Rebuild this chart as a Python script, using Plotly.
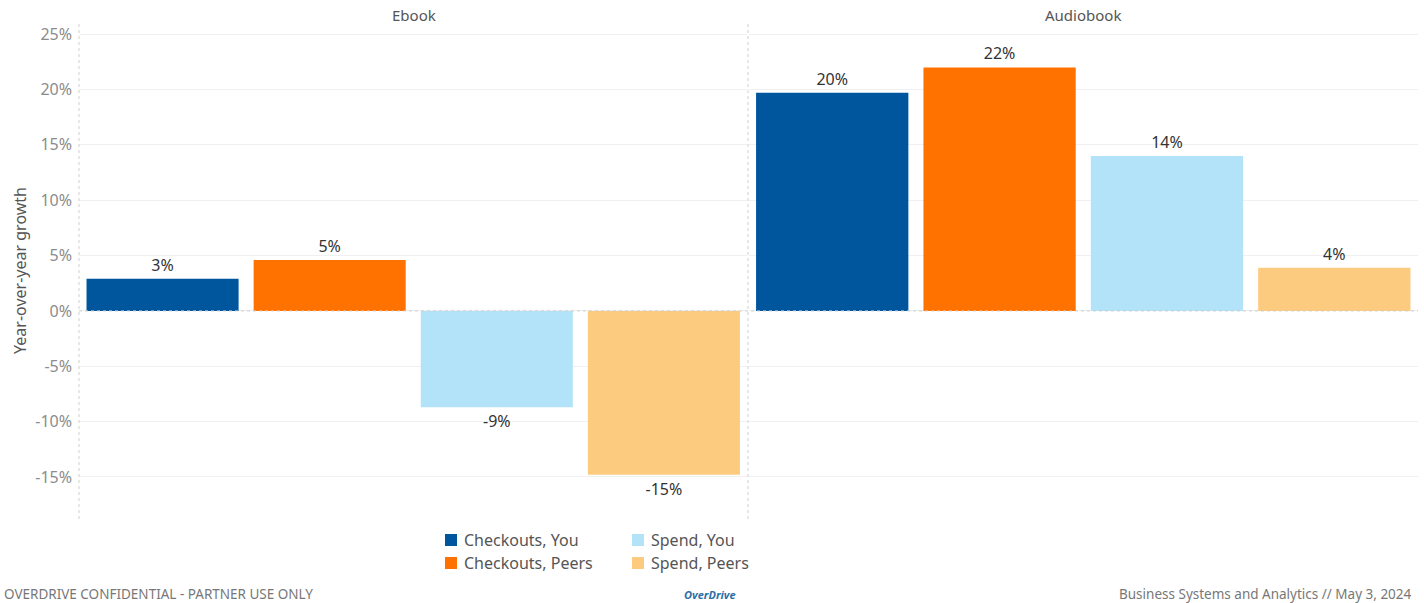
import plotly.graph_objects as go

# Year-over-year growth by format and measure
measures = ["Checkouts, You", "Checkouts, Peers", "Spend, You", "Spend, Peers"]
colors = ["#00569d", "#ff7200", "#b3e3f9", "#fdcb80"]
ebook_growth = [0.029, 0.046, -0.087, -0.148]
audiobook_growth = [0.197, 0.220, 0.140, 0.039]
panels = ["Ebook", "Audiobook"]
y_ticks = [-0.15, -0.10, -0.05, 0.0, 0.05, 0.10, 0.15, 0.20, 0.25]
y_tick_labels = ["-15%", "-10%", "-5%", "0%", "5%", "10%", "15%", "20%", "25%"]

FONT = "Noto Sans"
W, H = 1424, 603
L, R, T, B = 79, 6, 22, 84
pw = W - L - R
split = (748 - L) / pw

fig = go.Figure()
for vals, xa in [(ebook_growth, "x"), (audiobook_growth, "x2")]:
    fig.add_trace(go.Bar(
        x=measures, y=vals, xaxis=xa, yaxis="y",
        marker=dict(color=colors, line=dict(width=0)),
        text=[f"{v * 100:.0f}%" for v in vals], textposition="outside",
        textfont=dict(family=FONT, size=16, color="#333333"),
        cliponaxis=False, showlegend=False, hoverinfo="skip",
    ))

fig.update_layout(
    width=W, height=H,
    margin=dict(l=L, r=R, t=T, b=B),
    paper_bgcolor="white", plot_bgcolor="white",
    bargap=0.09,
    font=dict(family=FONT, color="#555555"),
    xaxis=dict(domain=[0, split - 0.0004], showticklabels=False, showgrid=False,
               zeroline=False, showline=False, ticks=""),
    xaxis2=dict(domain=[split + 0.0004, 1], showticklabels=False, showgrid=False,
                zeroline=False, showline=False, ticks="", anchor="y"),
    yaxis=dict(range=[-0.188, 0.261], tickvals=y_ticks, ticktext=y_tick_labels,
               tickfont=dict(family=FONT, size=16, color="#8c8c8c"),
               showgrid=True, gridcolor="#f0f0f0", gridwidth=1,
               zeroline=False, showline=False, ticks="", ticklabelstandoff=6,
               title=dict(text="Year-over-year growth", standoff=4,
                          font=dict(family=FONT, size=16, color="#555555"))),
)

# zero line drawn dotted, panel divider and left axis rule
fig.add_shape(type="line", xref="paper", yref="y", x0=0, x1=1, y0=0, y1=0,
              line=dict(color="#cccccc", width=1, dash="dot"), layer="above")
for xp in [0, split]:
    fig.add_shape(type="line", xref="paper", yref="paper", x0=xp, x1=xp, y0=0, y1=1,
                  line=dict(color="#d0d0d0", width=1, dash="dot"))

# panel headers
for name, xc in [("Ebook", split / 2), ("Audiobook", (split + 1) / 2)]:
    fig.add_annotation(text=name, xref="paper", yref="paper", x=xc, y=1,
                       yshift=7, xanchor="center", yanchor="middle", showarrow=False,
                       font=dict(family=FONT, size=15, color="#555555"))

# legend laid out in two columns below the plot
def px_x(px):
    return (px - L) / pw

def px_y(py):
    return (H - B - py) / (H - T - B)

legend_pos = [(445, 540), (445, 563), (632, 540), (632, 563)]
for name, col, (lx, ly) in zip(measures, colors, legend_pos):
    fig.add_shape(type="rect", xref="paper", yref="paper",
                  x0=px_x(lx), x1=px_x(lx + 12), y0=px_y(ly + 6), y1=px_y(ly - 6),
                  fillcolor=col, line=dict(width=0))
    fig.add_annotation(text=name, xref="paper", yref="paper",
                       x=px_x(lx + 17), y=px_y(ly), xanchor="left", yanchor="middle",
                       showarrow=False, font=dict(family=FONT, size=16, color="#555555"))

# footer
fig.add_annotation(text="OVERDRIVE CONFIDENTIAL - PARTNER USE ONLY", xref="paper", yref="paper",
                   x=px_x(2), y=px_y(594), xanchor="left", yanchor="middle", showarrow=False,
                   font=dict(family=FONT, size=13.5, color="#777777"))
fig.add_annotation(text="Business Systems and Analytics // May 3, 2024", xref="paper", yref="paper",
                   x=px_x(1414), y=px_y(594), xanchor="right", yanchor="middle", showarrow=False,
                   font=dict(family=FONT, size=13.5, color="#777777"))
fig.add_annotation(text="<b><i>OverDrive</i></b>", xref="paper", yref="paper",
                   x=px_x(710), y=px_y(594), xanchor="center", yanchor="middle", showarrow=False,
                   font=dict(family=FONT, size=11, color="#2d6ea6"))

fig.write_html("out.html")
